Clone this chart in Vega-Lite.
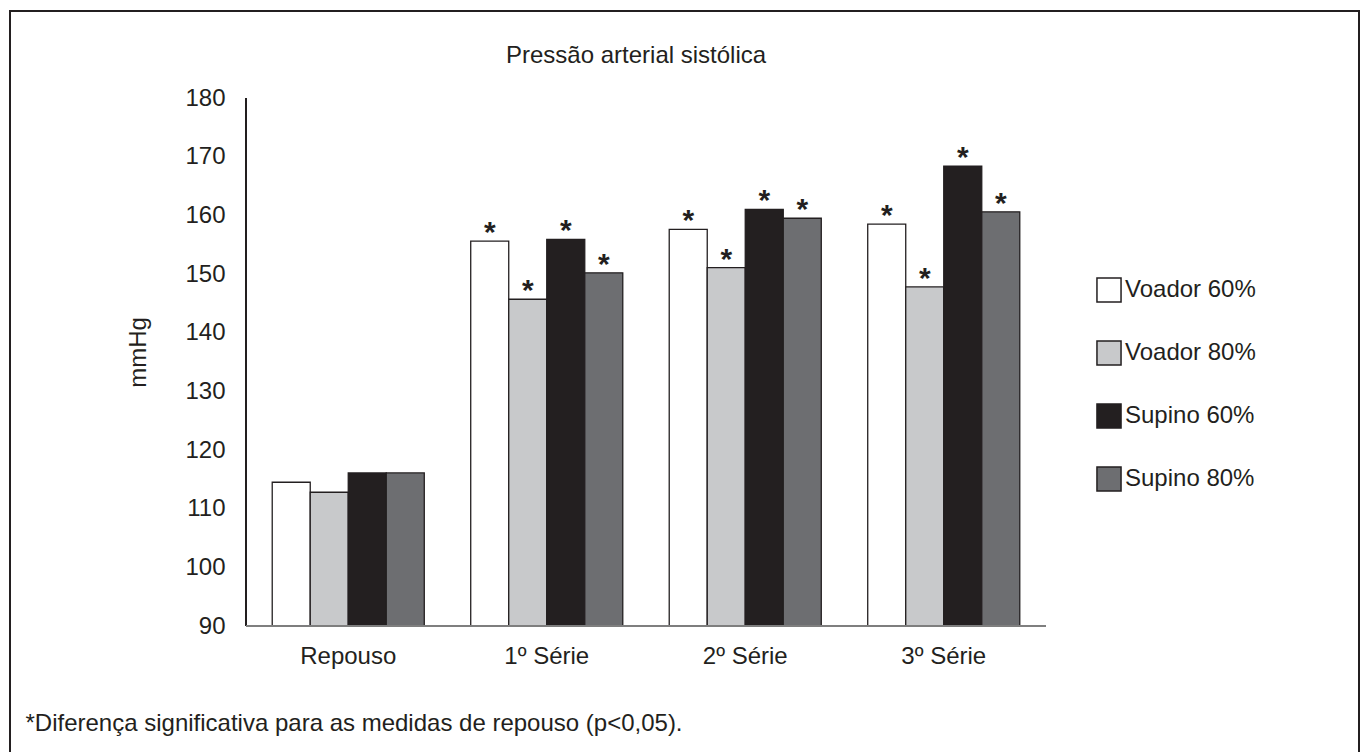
{
  "$schema": "https://vega.github.io/schema/vega-lite/v6.json",
  "autosize": "none",
  "width": 1349,
  "height": 760,
  "padding": {"left": 10, "top": 11, "right": 3, "bottom": 0},
  "background": "white",
  "config": {
    "font": "Liberation Sans",
    "view": {"stroke": "#231f20", "strokeWidth": 2},
    "axis": {"labelColor": "#231f20", "titleColor": "#231f20", "titleFontWeight": "normal", "labelFont": "Liberation Sans", "titleFont": "Liberation Sans"}
  },
  "title": {
    "text": "Pressão arterial sistólica",
    "anchor": "start",
    "frame": "group",
    "orient": "top",
    "offset": 0,
    "baseline": "alphabetic",
    "dx": 496,
    "dy": 76,
    "fontSize": 24,
    "fontWeight": "normal",
    "color": "#231f20",
    "font": "Liberation Sans"
  },
  "data": {
    "values": [
      {"categoria": "Repouso", "grupo": "Voador 60%", "pressao": 114.5, "sinal": ""},
      {"categoria": "Repouso", "grupo": "Voador 80%", "pressao": 112.8, "sinal": ""},
      {"categoria": "Repouso", "grupo": "Supino 60%", "pressao": 116.1, "sinal": ""},
      {"categoria": "Repouso", "grupo": "Supino 80%", "pressao": 116.1, "sinal": ""},
      {"categoria": "1º Série", "grupo": "Voador 60%", "pressao": 155.6, "sinal": "*"},
      {"categoria": "1º Série", "grupo": "Voador 80%", "pressao": 145.7, "sinal": "*"},
      {"categoria": "1º Série", "grupo": "Supino 60%", "pressao": 155.9, "sinal": "*"},
      {"categoria": "1º Série", "grupo": "Supino 80%", "pressao": 150.2, "sinal": "*"},
      {"categoria": "2º Série", "grupo": "Voador 60%", "pressao": 157.6, "sinal": "*"},
      {"categoria": "2º Série", "grupo": "Voador 80%", "pressao": 151.1, "sinal": "*"},
      {"categoria": "2º Série", "grupo": "Supino 60%", "pressao": 161.0, "sinal": "*"},
      {"categoria": "2º Série", "grupo": "Supino 80%", "pressao": 159.5, "sinal": "*"},
      {"categoria": "3º Série", "grupo": "Voador 60%", "pressao": 158.5, "sinal": "*"},
      {"categoria": "3º Série", "grupo": "Voador 80%", "pressao": 147.8, "sinal": "*"},
      {"categoria": "3º Série", "grupo": "Supino 60%", "pressao": 168.4, "sinal": "*"},
      {"categoria": "3º Série", "grupo": "Supino 80%", "pressao": 160.6, "sinal": "*"}
    ]
  },
  "encoding": {
    "x": {
      "field": "categoria",
      "type": "nominal",
      "sort": ["Repouso", "1º Série", "2º Série", "3º Série"],
      "scale": {"range": [239, 1033], "paddingInner": 0.234, "paddingOuter": 0.117},
      "axis": {
        "orient": "bottom",
        "offset": -145,
        "domain": false,
        "ticks": false,
        "tickSize": 0,
        "labelAngle": 0,
        "labelFontSize": 24,
        "labelPadding": 18,
        "labelDx": -4,
        "title": "*Diferença significativa para as medidas de repouso (p<0,05).",
        "titleFontSize": 24,
        "titleX": 15,
        "titleY": 104,
        "titleAlign": "left",
        "titleAnchor": "start",
        "titleBaseline": "alphabetic"
      }
    }
  },
  "layer": [
    {
      "mark": {"type": "bar", "stroke": "#231f20", "strokeWidth": 1.3},
      "encoding": {
        "xOffset": {"field": "grupo", "type": "nominal", "sort": ["Voador 60%", "Voador 80%", "Supino 60%", "Supino 80%"], "scale": {"paddingInner": 0, "paddingOuter": 0}},
        "y": {
          "field": "pressao",
          "type": "quantitative",
          "scale": {"domain": [65.284, 194.83], "nice": false, "zero": false},
          "axis": {
            "orient": "left",
            "offset": -236,
            "values": [90, 100, 110, 120, 130, 140, 150, 160, 170, 180],
            "domain": false,
            "ticks": false,
            "tickSize": 0,
            "grid": false,
            "labelFontSize": 24,
            "labelPadding": 21,
            "title": "mmHg",
            "titleFontSize": 24,
            "titleAngle": -90,
            "titleX": -108,
            "titleY": 341,
            "titleAlign": "center",
            "titleBaseline": "middle"
          }
        },
        "y2": {"datum": 90},
        "color": {
          "field": "grupo",
          "type": "nominal",
          "sort": ["Voador 60%", "Voador 80%", "Supino 60%", "Supino 80%"],
          "scale": {"domain": ["Voador 60%", "Voador 80%", "Supino 60%", "Supino 80%"], "range": ["#ffffff", "#c8c9cb", "#231f20", "#6d6e71"]},
          "legend": {
            "title": null,
            "orient": "none",
            "legendX": 1086,
            "legendY": 266,
            "padding": 0,
            "symbolType": "square",
            "symbolSize": 580,
            "symbolStrokeColor": "#231f20",
            "symbolStrokeWidth": 1.5,
            "symbolOpacity": 1,
            "labelFontSize": 24,
            "labelColor": "#231f20",
            "labelFont": "Liberation Sans",
            "labelOffset": 3,
            "rowPadding": 31
          }
        }
      }
    },
    {
      "mark": {"type": "text", "fontSize": 30, "fontWeight": "bold", "baseline": "alphabetic", "align": "center", "color": "#231f20", "dy": 1},
      "encoding": {
        "xOffset": {"field": "grupo", "type": "nominal", "sort": ["Voador 60%", "Voador 80%", "Supino 60%", "Supino 80%"]},
        "y": {"field": "pressao", "type": "quantitative"},
        "text": {"field": "sinal"}
      }
    },
    {
      "mark": {"type": "rule", "color": "#231f20", "strokeWidth": 1.5},
      "encoding": {
        "x": {"datum": "Repouso", "bandPosition": -0.171},
        "y": {"datum": 90},
        "y2": {"datum": 180}
      }
    },
    {
      "mark": {"type": "rule", "color": "#7f7f7f", "strokeWidth": 1.5},
      "encoding": {
        "x": {"datum": "Repouso", "bandPosition": -0.171},
        "x2": {"datum": "3º Série", "bandPosition": 1.171},
        "y": {"datum": 90}
      }
    }
  ]
}
